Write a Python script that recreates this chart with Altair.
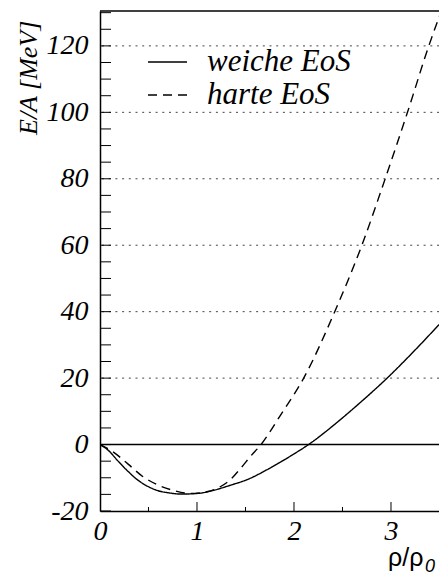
import altair as alt
import pandas as pd

# ---- data ----
rho_weich = [0.0, 0.08, 0.19, 0.29, 0.39, 0.50, 0.60, 0.70, 0.84, 1.01, 1.18, 1.35, 1.53, 1.72, 1.99, 2.15, 2.47, 2.65, 2.96, 3.26, 3.47, 3.55]
ea_weich = [0.0, -1.6, -5.1, -8.1, -10.7, -12.7, -13.9, -14.5, -14.9, -14.7, -13.7, -12.2, -10.4, -7.6, -3.0, 0.0, 7.3, 11.8, 20.0, 28.8, 35.3, 37.8]

rho_hart = [0.0, 0.13, 0.29, 0.44, 0.60, 0.77, 0.93, 1.10, 1.24, 1.35, 1.46, 1.55, 1.66, 1.86, 2.10, 2.42, 2.70, 2.94, 3.17, 3.39, 3.50]
ea_hart = [0.0, -2.1, -5.9, -9.6, -12.2, -13.9, -14.7, -14.2, -12.7, -10.4, -6.8, -3.6, 0.0, 8.8, 20.0, 40.0, 60.0, 80.0, 100.0, 120.0, 129.0]

legend_labels = ["weiche EoS", "harte EoS"]
series_keys = ["weich", "hart"]
x_tick_labels = [0, 1, 2, 3]
y_tick_labels = [-20, 0, 20, 40, 60, 80, 100, 120]
grid_levels = [20, 40, 60, 80, 100, 120]
zero_level = [0]
x_major_ticks = [1, 2, 3]
x_minor_ticks = [0.5, 1.5, 2.5]
y_ticks = [-20, -15, -10, -5, 0, 5, 10, 15, 20, 25, 30, 35, 40, 45, 50, 55, 60,
           65, 70, 75, 80, 85, 90, 95, 100, 105, 110, 115, 120, 125, 130]
y_title = "E/A [MeV]"
x_title_main = "ρ/ρ"
x_title_sub = "0"

# ---- layout / style ----
W, H = 339, 500
SERIF = "Liberation Serif"
SANS = "Liberation Sans"
xs = alt.Scale(domain=[0, 3.495], nice=False, zero=False)
ys = alt.Scale(domain=[-20, 130.5], nice=False, zero=False)
dash_map = alt.Scale(domain=series_keys, range=[[1, 0], [9, 6]])

curves = pd.DataFrame({
    "rho": rho_weich + rho_hart,
    "ea": ea_weich + ea_hart,
    "eos": [series_keys[0]] * len(rho_weich) + [series_keys[1]] * len(rho_hart),
})

x_axis = alt.Axis(values=x_tick_labels, ticks=False, grid=False, domain=True,
                  domainColor="black", domainWidth=1.5, labelFont=SERIF,
                  labelFontStyle="italic", labelFontSize=28, labelColor="black",
                  labelPadding=6, labelFlush=False, labelOverlap=False,
                  labelExpr="'' + datum.value", title=None)
y_axis = alt.Axis(values=y_tick_labels, ticks=False, grid=False, domain=True,
                  domainColor="black", domainWidth=1.5, labelFont=SERIF,
                  labelFontStyle="italic", labelFontSize=28, labelColor="black",
                  labelPadding=12, labelFlush=False, labelOverlap=False,
                  labelExpr="'' + datum.value", title=None)


def X(field):
    return alt.X(field, scale=xs, axis=x_axis)


def Y(field):
    return alt.Y(field, scale=ys, axis=y_axis)


lines = alt.Chart(curves).mark_line(color="black", strokeWidth=1.4, clip=True,
                                    interpolate="monotone").encode(
    x=X("rho:Q"),
    y=Y("ea:Q"),
    strokeDash=alt.StrokeDash("eos:N", scale=dash_map, legend=None),
    detail="eos:N",
)

grid = alt.Chart(pd.DataFrame({"v": grid_levels})).mark_rule(
    color="#444444", strokeWidth=1, strokeDash=[2, 4.7]).encode(y=Y("v:Q"))

zero = alt.Chart(pd.DataFrame({"v": zero_level})).mark_rule(
    color="black", strokeWidth=1.5).encode(y=Y("v:Q"))

top_border = alt.Chart(pd.DataFrame({"v": [0]})).mark_rule(
    color="black", strokeWidth=1.5).encode(
    x=alt.value(0), x2=alt.value(W), y=alt.value(0))

yt = alt.Chart(pd.DataFrame({"v": y_ticks})).mark_rule(
    color="black", strokeWidth=1).encode(
    y=Y("v:Q"), x=alt.value(0), x2=alt.value(11))

xt_major = alt.Chart(pd.DataFrame({"v": x_major_ticks})).mark_rule(
    color="black", strokeWidth=1).encode(
    x=X("v:Q"), y=alt.value(H), y2=alt.value(H - 9))

xt_minor = alt.Chart(pd.DataFrame({"v": x_minor_ticks})).mark_rule(
    color="black", strokeWidth=1).encode(
    x=X("v:Q"), y=alt.value(H), y2=alt.value(H - 4))

# legend (manual, upper left)
leg_layers = []
leg_y = [51, 84]
for lab, key, ly in zip(legend_labels, series_keys, leg_y):
    dash = [1, 0] if key == series_keys[0] else [9, 6]
    leg_layers.append(
        alt.Chart(pd.DataFrame({"t": [lab]})).mark_rule(
            color="black", strokeWidth=1.4, strokeDash=dash).encode(
            x=alt.value(48), x2=alt.value(87), y=alt.value(ly)))
    leg_layers.append(
        alt.Chart(pd.DataFrame({"t": [lab]})).mark_text(
            font=SERIF, fontStyle="italic", fontSize=31, color="black",
            align="left", baseline="alphabetic").encode(
            text="t:N", x=alt.value(107), y=alt.value(ly + 9)))

ytitle = alt.Chart(pd.DataFrame({"t": [y_title]})).mark_text(
    font=SERIF, fontStyle="italic", fontSize=26, color="black",
    align="left", baseline="alphabetic", angle=270).encode(
    text="t:N", x=alt.value(-63), y=alt.value(124))

xtitle_main = alt.Chart(pd.DataFrame({"t": [x_title_main]})).mark_text(
    font=SANS, fontSize=25, color="black", align="left",
    baseline="alphabetic").encode(
    text="t:N", x=alt.value(288), y=alt.value(555))

xtitle_sub = alt.Chart(pd.DataFrame({"t": [x_title_sub]})).mark_text(
    font=SANS, fontStyle="italic", fontSize=18, color="black", align="left",
    baseline="alphabetic").encode(
    text="t:N", x=alt.value(325), y=alt.value(561))

chart = alt.layer(
    grid, zero, lines, yt, xt_major, xt_minor, top_border,
    *leg_layers, ytitle, xtitle_main, xtitle_sub
).properties(
    width=W, height=H,
    autosize=alt.AutoSizeParams(type="none"),
    padding={"left": 100, "top": 11, "right": 0, "bottom": 67},
).configure_view(stroke=None)

chart.save("out.html", embed_options={"renderer": "svg", "actions": False})
